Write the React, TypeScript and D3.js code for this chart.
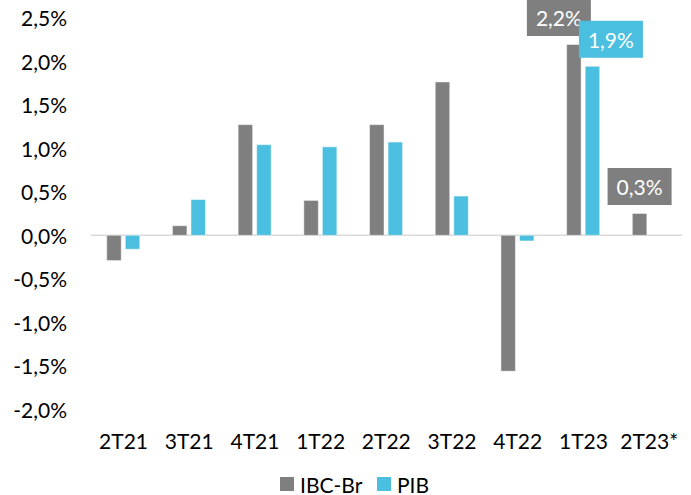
import React from "react";
import * as d3 from "d3";

const categories = ["2T21", "3T21", "4T21", "1T22", "2T22", "3T22", "4T22", "1T23", "2T23*"];
const ibcBr = [-0.29, 0.11, 1.27, 0.4, 1.27, 1.76, -1.56, 2.19, 0.25];
const pib: (number | null)[] = [-0.16, 0.41, 1.04, 1.015, 1.07, 0.45, -0.065, 1.94, null];
const yTicks = [-2, -1.5, -1, -0.5, 0, 0.5, 1, 1.5, 2, 2.5];
const seriesNames = ["IBC-Br", "PIB"];
// data labels: [series index, category index, text]
const dataLabels: [number, number, string][] = [
  [0, 7, "2,2%"],
  [1, 7, "1,9%"],
  [0, 8, "0,3%"],
];

const W = 691;
const H = 495;
const GREY = "#7f7f7f";
const CYAN = "#4bbfdf";
const FONT = "Lato, 'Open Sans', sans-serif";

const fmt = (v: number) => v.toFixed(1).replace(".", ",") + "%";

export default function App() {
  const x = d3.scaleBand<string>().domain(categories).range([90.7, 682]).paddingInner(0).paddingOuter(0);
  const y = d3.scaleLinear().domain([-2, 2.5]).range([409.5, 17.5]);
  const x1 = d3.scaleBand<string>().domain(seriesNames).range([-16.8, 16.2]).paddingInner(0.22);
  const colors = [GREY, CYAN];
  const series = [ibcBr, pib];
  const labelOffsets = [-15, 18.5, 0];

  return (
    <svg width={W} height={H} style={{ position: "absolute", left: 0, top: 0, background: "#fff" }}>
      <rect x={0} y={0} width={W} height={H} fill="#fff" />
      {yTicks.map((t) => (
        <text key={t} x={67} y={y(t)} textAnchor="end" dominantBaseline="central" fontFamily={FONT} fontSize={21} fill="#000">
          {fmt(t)}
        </text>
      ))}
      <line x1={x.range()[0]} x2={x.range()[1]} y1={y(0)} y2={y(0)} stroke="#d9d9d9" strokeWidth={1.5} />
      {series.map((vals, si) =>
        vals.map((v, ci) => {
          if (v === null || v === undefined) return null;
          const cx = (x(categories[ci]) as number) + x.bandwidth() / 2;
          const bx = cx + (x1(seriesNames[si]) as number);
          const y0 = y(0);
          const yv = y(v);
          return (
            <rect
              key={`${si}-${ci}`}
              x={bx}
              y={Math.min(y0, yv)}
              width={x1.bandwidth()}
              height={Math.abs(yv - y0)}
              fill={colors[si]}
              stroke="#fff"
              strokeOpacity={0.45}
              strokeWidth={1}
            />
          );
        })
      )}
      {categories.map((c) => (
        <text key={c} x={(x(c) as number) + x.bandwidth() / 2} y={440} textAnchor="middle" dominantBaseline="central" fontFamily={FONT} fontSize={21} fill="#000">
          {c}
        </text>
      ))}
      {dataLabels.map(([si, ci, txt], i) => {
        const v = series[si][ci] as number;
        const cx = (x(categories[ci]) as number) + x.bandwidth() / 2 + (x1(seriesNames[si]) as number) + x1.bandwidth() / 2 + labelOffsets[i];
        const cy = y(v) - 27;
        return (
          <g key={txt}>
            <rect x={cx - 32} y={cy - 18.5} width={64} height={37} fill={colors[si]} />
            <text x={cx} y={cy} textAnchor="middle" dominantBaseline="central" fontFamily={FONT} fontSize={21} fill="#fff">
              {txt}
            </text>
          </g>
        );
      })}
      <g>
        <rect x={280} y={477} width={14} height={14} fill={GREY} />
        <text x={300} y={484} dominantBaseline="central" fontFamily={FONT} fontSize={21} fill="#000">IBC-Br</text>
        <rect x={377} y={477} width={14} height={14} fill={CYAN} />
        <text x={397} y={484} dominantBaseline="central" fontFamily={FONT} fontSize={21} fill="#000">PIB</text>
      </g>
    </svg>
  );
}
